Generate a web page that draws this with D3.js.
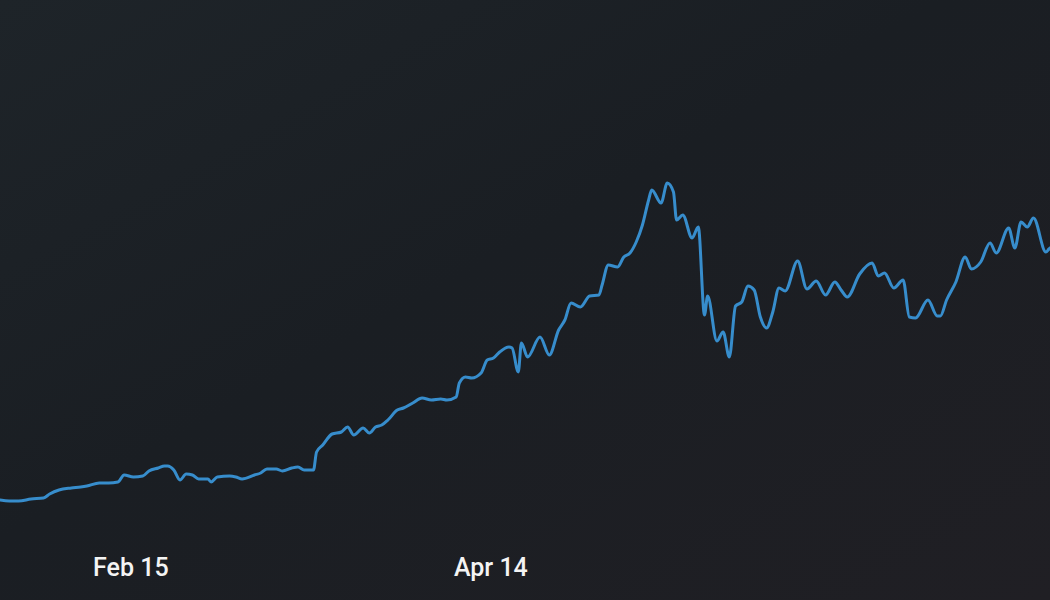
<!DOCTYPE html>
<html>
<head>
<meta charset="utf-8">
<script src="https://cdn.jsdelivr.net/npm/d3@7"></script>
<style>
  html, body { margin: 0; padding: 0; background: #1c2126; overflow: hidden; }
  svg { display: block; }
</style>
</head>
<body>
<svg id="chart" width="1050" height="600"></svg>
<script>
const dates = [
  "2021-01-25 00","2021-01-26 12","2021-01-28 00","2021-01-30 00",
  "2021-02-01 00","2021-02-02 00","2021-02-03 12","2021-02-05 12","2021-02-07 00","2021-02-08 00","2021-02-10 00","2021-02-11 12","2021-02-13 00","2021-02-14 00","2021-02-15 12","2021-02-17 00","2021-02-18 00","2021-02-19 12","2021-02-20 12","2021-02-21 00","2021-02-22 00","2021-02-23 00","2021-02-24 00","2021-02-25 00","2021-02-26 00","2021-02-27 12","2021-02-28 00",
  "2021-03-01 00","2021-03-03 00","2021-03-04 00","2021-03-05 00","2021-03-07 00","2021-03-08 00","2021-03-09 00","2021-03-10 12","2021-03-11 12","2021-03-13 00","2021-03-14 00","2021-03-15 00","2021-03-16 12","2021-03-17 00","2021-03-18 00","2021-03-19 12","2021-03-21 00","2021-03-22 00","2021-03-23 00","2021-03-24 12","2021-03-25 12","2021-03-26 12","2021-03-27 12","2021-03-28 12","2021-03-30 00","2021-03-31 00",
  "2021-04-01 12","2021-04-03 00","2021-04-04 12","2021-04-06 00","2021-04-07 00","2021-04-08 12","2021-04-09 00","2021-04-10 00","2021-04-11 00","2021-04-12 12","2021-04-13 12","2021-04-14 12","2021-04-15 12","2021-04-17 00","2021-04-17 12","2021-04-18 12","2021-04-19 00","2021-04-20 00","2021-04-22 00","2021-04-23 12","2021-04-25 00","2021-04-26 00","2021-04-27 00","2021-04-28 12","2021-04-30 00",
  "2021-05-01 12","2021-05-02 00","2021-05-03 00","2021-05-04 12","2021-05-05 12","2021-05-06 12","2021-05-07 12","2021-05-08 12","2021-05-09 12","2021-05-10 00","2021-05-11 12","2021-05-12 12","2021-05-13 12","2021-05-14 00","2021-05-15 00","2021-05-16 12","2021-05-17 12","2021-05-18 12","2021-05-19 00","2021-05-20 12","2021-05-21 12","2021-05-22 12","2021-05-23 12","2021-05-24 12","2021-05-25 12","2021-05-26 12","2021-05-27 12","2021-05-28 12","2021-05-29 12","2021-05-30 12","2021-05-31 12",
  "2021-06-02 12","2021-06-04 00","2021-06-05 12","2021-06-07 00","2021-06-08 12","2021-06-09 12","2021-06-10 12","2021-06-12 12","2021-06-14 12","2021-06-15 12","2021-06-16 12","2021-06-18 00","2021-06-19 12","2021-06-20 12","2021-06-21 12","2021-06-23 12","2021-06-25 00","2021-06-25 12","2021-06-26 12","2021-06-28 00","2021-06-29 12","2021-06-30 12",
  "2021-07-02 00","2021-07-03 12","2021-07-04 12","2021-07-06 12","2021-07-07 12","2021-07-08 12","2021-07-09 12","2021-07-10 12","2021-07-12 12","2021-07-13 00","2021-07-14 00"
];
const values = [
  60,59,59,61,
  62,66,70,72,73,74,77,77,78,85,83,84,89,92,94,94,90,80,86,85,81,81,78,
  83,84,83,81,85,87,91,91,89,92,93,90,90,108,115,126,128,133,125,132,127,133,135,140,150,152,
  157,162,160,161,160,163,177,183,182,187,200,202,208,213,212,188,217,203,223,205,230,240,257,253,264,
  265,275,295,293,303,307,318,335,360,370,357,377,368,340,345,322,333,245,264,219,228,203,254,258,274,270,243,232,248,272,269,
  299,271,279,265,278,270,263,286,297,284,287,272,280,243,242,260,244,244,260,278,303,291,
  298,317,307,332,312,338,333,342,308,311,315
];
const xDomain = ["2021-01-25 00", "2021-07-14 00"];
const yDomain = [0, 400];
const tickDates = ["2021-02-15 00", "2021-04-14 00"];

const W = 1050, H = 600;
const parse = d3.utcParse("%Y-%m-%d %H");
const data = dates.map((d, i) => ({ date: parse(d), value: values[i] }));

const svg = d3.select("#chart");
const defs = svg.append("defs");
const bg = defs.append("linearGradient").attr("id", "bg")
  .attr("x1", "0").attr("y1", "0").attr("x2", "1").attr("y2", "1");
bg.append("stop").attr("offset", "0%").attr("stop-color", "#1e2429");
bg.append("stop").attr("offset", "45%").attr("stop-color", "#1a1e23");
bg.append("stop").attr("offset", "100%").attr("stop-color", "#201f24");
svg.append("rect").attr("width", W).attr("height", H).attr("fill", "url(#bg)");

const x = d3.scaleUtc().domain(xDomain.map(parse)).range([0, 1055.2]);
const y = d3.scaleLinear().domain(yDomain).range([560, 160]);

const line = d3.line()
  .x(d => x(d.date))
  .y(d => y(d.value))
  .curve(d3.curveMonotoneX);

svg.append("path")
  .datum(data)
  .attr("fill", "none")
  .attr("stroke", "#378dcc")
  .attr("stroke-width", 3)
  .attr("stroke-linejoin", "round")
  .attr("stroke-linecap", "round")
  .attr("d", line);

const axis = d3.axisBottom(x)
  .tickValues(tickDates.map(parse))
  .tickFormat(d3.utcFormat("%b %-d"))
  .tickSize(0)
  .tickPadding(0);

const gx = svg.append("g").attr("transform", "translate(0,558)").call(axis);
gx.select(".domain").remove();
gx.selectAll("text")
  .attr("fill", "#f4f4f4")
  .attr("dy", "0.71em")
  .style("font-family", "Roboto, 'Noto Sans', sans-serif")
  .style("font-size", "25px")
  .style("font-weight", "500");
</script>
</body>
</html>
